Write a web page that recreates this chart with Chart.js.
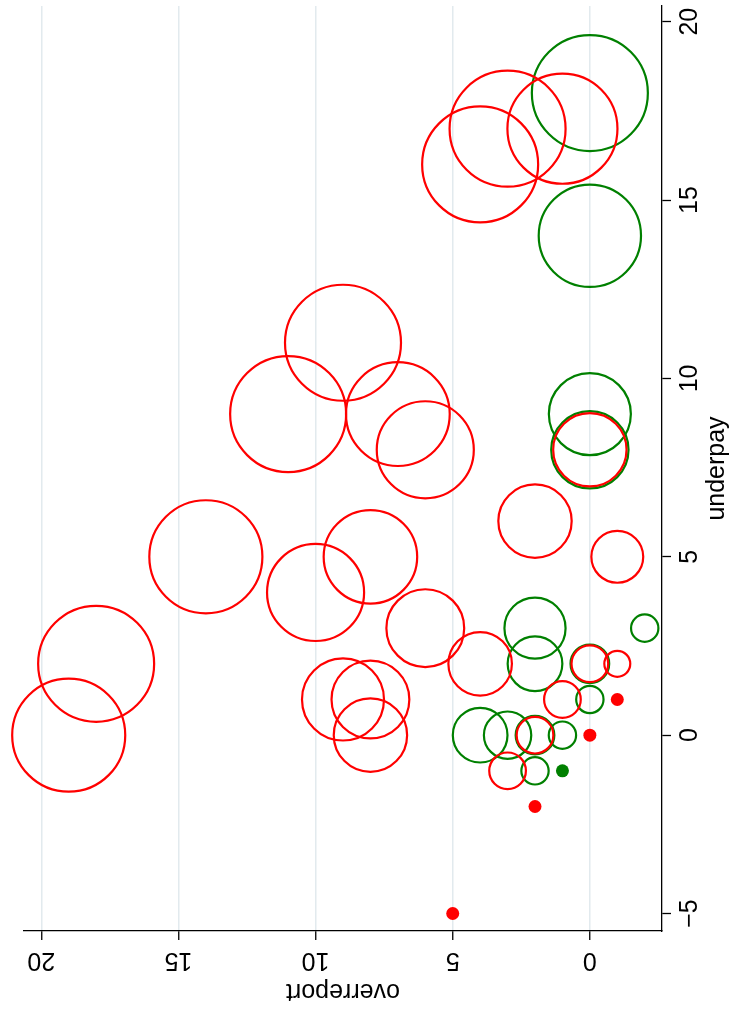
<!DOCTYPE html>
<html>
<head>
<meta charset="utf-8">
<script src="https://cdn.jsdelivr.net/npm/chart.js@4"></script>
<style>
  html, body { margin: 0; padding: 0; background: #fff; }
  #wrap { width: 739px; height: 1018px; }
</style>
</head>
<body>
<div id="wrap"><canvas id="chart" width="739" height="1018"></canvas></div>
<script>
const overreportTicks = [0, 5, 10, 15, 20];
const underpayTicks = [-5, 0, 5, 10, 15, 20];

// red group: overreport, underpay, bubble weight
const redOver = [19, 18, 14, 10, 8, 11, 9, 7, 6, 6, 2, 4, 3, 1, 0, -1, 9, 8, 8, 4, 0, -1, 1, 2, 3];
const redUnder = [0, 2, 5, 4, 5, 9, 11, 9, 8, 3, 6, 16, 17, 17, 8, 5, 1, 1, 0, 2, 2, 2, 1, 0, -1];
const redWeight = [19, 20, 19, 14, 13, 20, 20, 16, 14, 9, 8, 20, 20, 18, 8, 4, 10, 9, 8, 6, 2, 1, 2, 2, 2];
// red points with zero weight (solid dots)
const redZeroOver = [-1, 0, 2, 5];
const redZeroUnder = [1, 0, -2, -5];

// green group
const greenOver = [0, 0, 0, 0, 2, 2, -2, 0, 0, 1, 3, 4, 2, 2];
const greenUnder = [18, 14, 9, 8, 3, 2, 3, 2, 1, 0, 0, 0, -1, 0];
const greenWeight = [18, 14, 9, 8, 5, 4, 1, 2, 1, 1, 3, 4, 1, 2];
const greenZeroOver = [1];
const greenZeroUnder = [-1];

const RED = '#ff0000';
const GREEN = '#008000';
const MAX_R = 58;
const DOT_R = 6.5;

// bubble area proportional to weight, largest weight of each group gets MAX_R
const bubbles = (xs, ys, ws) => {
  const top = Math.max(...ws);
  return xs.map((x, i) => ({ x: x, y: ys[i], r: MAX_R * Math.sqrt(ws[i] / top) }));
};

const dots = (xs, ys) => {
  return xs.map((x, i) => ({ x: x, y: ys[i], r: DOT_R }));
};

const fmt = (v) => (v < 0 ? '\u2212' + Math.abs(v) : String(v));

const FONT = '25px "Liberation Sans", Arial, sans-serif';

const axisText = {
  id: 'axisText',
  afterDraw(chart) {
    const { ctx } = chart;
    const xs = chart.scales.x;
    const ys = chart.scales.y;
    ctx.save();
    ctx.fillStyle = '#000';
    ctx.font = FONT;
    ctx.textAlign = 'center';
    ctx.textBaseline = 'alphabetic';

    // bottom axis: labels upside down
    xs.ticks.forEach((t) => {
      ctx.save();
      ctx.translate(xs.getPixelForValue(t.value), xs.top + 22);
      ctx.rotate(Math.PI);
      ctx.fillText(fmt(t.value), 0, 0);
      ctx.restore();
    });
    ctx.save();
    ctx.translate((xs.left + xs.right) / 2, xs.top + 53);
    ctx.rotate(Math.PI);
    ctx.fillText('overreport', 0, 0);
    ctx.restore();

    // right axis: labels read bottom to top
    ys.ticks.forEach((t) => {
      ctx.save();
      ctx.translate(ys.left + 35, ys.getPixelForValue(t.value));
      ctx.rotate(-Math.PI / 2);
      ctx.fillText(fmt(t.value), 0, 0);
      ctx.restore();
    });
    ctx.save();
    ctx.translate(ys.left + 62, (ys.top + ys.bottom) / 2);
    ctx.rotate(-Math.PI / 2);
    ctx.fillText('underpay', 0, 0);
    ctx.restore();

    ctx.restore();
  },
};

const ctx = document.getElementById('chart').getContext('2d');
const chart = new Chart(ctx, {
  type: 'bubble',
  data: {
    datasets: [
      {
        data: bubbles(redOver, redUnder, redWeight),
        borderColor: RED,
        backgroundColor: 'rgba(0,0,0,0)',
        borderWidth: 2.2,
        clip: false,
      },
      {
        data: dots(redZeroOver, redZeroUnder),
        borderColor: RED,
        backgroundColor: RED,
        borderWidth: 0,
        clip: false,
      },
      {
        data: bubbles(greenOver, greenUnder, greenWeight),
        borderColor: GREEN,
        backgroundColor: 'rgba(0,0,0,0)',
        borderWidth: 2.2,
        clip: false,
      },
      {
        data: dots(greenZeroOver, greenZeroUnder),
        borderColor: GREEN,
        backgroundColor: GREEN,
        borderWidth: 0,
        clip: false,
      },
    ],
  },
  options: {
    responsive: false,
    animation: false,
    events: [],
    layout: { autoPadding: false, padding: { left: 24, top: 6, right: 0, bottom: 0 } },
    plugins: {
      legend: { display: false },
      tooltip: { enabled: false },
    },
    scales: {
      x: {
        type: 'linear',
        position: 'bottom',
        reverse: true,
        min: -2.63,
        max: 20.63,
        afterBuildTicks: (s) => {
          s.ticks = overreportTicks.map((v) => ({ value: v }));
        },
        afterFit: (s) => {
          s.height = 87;
        },
        ticks: { display: false },
        grid: {
          color: '#e2eaee',
          lineWidth: 1.5,
          tickColor: '#000',
          tickWidth: 1.3,
          tickLength: 9,
        },
        border: { color: '#000', width: 1.3 },
      },
      y: {
        type: 'linear',
        position: 'right',
        min: -5.49,
        max: 20.44,
        afterBuildTicks: (s) => {
          s.ticks = underpayTicks.map((v) => ({ value: v }));
        },
        afterFit: (s) => {
          s.width = 77;
        },
        ticks: { display: false },
        grid: {
          drawOnChartArea: false,
          tickColor: '#000',
          tickWidth: 1.3,
          tickLength: 9,
        },
        border: { color: '#000', width: 1.3 },
      },
    },
  },
  plugins: [axisText],
});
</script>
</body>
</html>
